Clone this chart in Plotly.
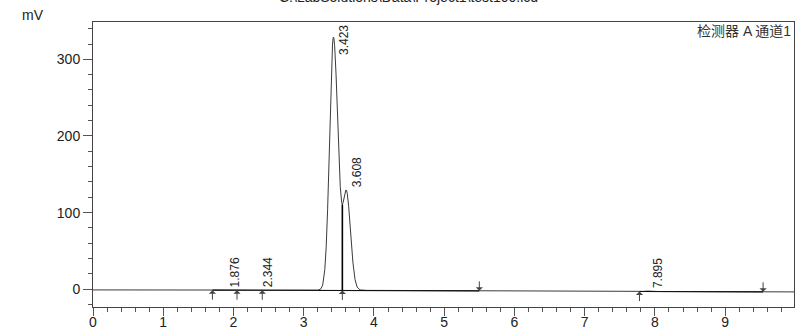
import numpy as np
import plotly.graph_objects as go

# ---- data ----
time_min = [0.00, 0.50, 1.00, 1.50, 1.70, 1.80, 1.876, 1.95, 2.05, 2.25, 2.344, 2.41,
            2.60, 2.80, 3.00, 3.10, 3.15, 3.20, 3.24, 3.27, 3.30, 3.32, 3.34, 3.36,
            3.38, 3.40, 3.41, 3.42, 3.423, 3.43, 3.44, 3.46, 3.48, 3.50, 3.52, 3.54,
            3.55, 3.56, 3.58, 3.60, 3.61, 3.62, 3.64, 3.66, 3.68, 3.70, 3.73, 3.76,
            3.80, 3.85, 3.90, 4.20, 4.60, 5.00, 5.50, 6.00, 6.50, 7.00, 7.50, 7.78,
            7.84, 7.895, 7.95, 8.05, 8.50, 9.00, 9.54, 9.98]
signal_mv = [-0.8, -0.9, -1.0, -1.1, -1.1, -0.9, -0.5, -0.9, -1.1, -0.9, -0.4, -1.0,
             -1.1, -1.2, -1.2, -1.2, -1.2, -1.1, 0.1, 5.5, 25.6, 55.5, 103.7, 168.7,
             240.7, 301.0, 320.0, 328.5, 329.0, 327.5, 318.0, 281.0, 228.0, 175.0, 134.0, 113.5,
             110.5, 113.0, 123.0, 129.5, 129.0, 125.0, 108.0, 84.0, 58.0, 35.5, 13.0, 3.0,
             -0.8, -1.3, -1.4, -1.5, -1.7, -1.8, -2.0, -2.2, -2.4, -2.6, -2.8, -2.9,
             -2.7, -2.3, -2.7, -2.9, -3.0, -3.1, -3.3, -3.4]

peak_times = [1.876, 2.344, 3.423, 3.608, 7.895]
peak_labels = ["1.876", "2.344", "3.423", "3.608", "7.895"]

# integration boundaries
start_marks = [1.70, 2.05, 2.41, 3.55, 7.78]
end_marks = [5.50, 9.54]
cluster_starts = [1.70, 7.78]
cluster_ends = [5.50, 9.54]
cluster_start_vals = [-1.1, -2.9]
cluster_end_vals = [-2.0, -3.3]
drop_time = 3.55

x_ticks = list(range(0, 10))
y_ticks = [0, 100, 200, 300]

title_text = "C:\\LabSolutions\\Data\\Project1\\test100.lcd"
channel_text = "检测器 A 通道1"
unit_text = "mV"

# ---- helpers for positions ----
def base_at(t):
    for s, e, sv, ev in zip(cluster_starts, cluster_ends, cluster_start_vals, cluster_end_vals):
        if s <= t <= e:
            return sv + (ev - sv) * (t - s) / (e - s)
    return float(np.interp(t, time_min, signal_mv))

FONT = "Liberation Sans, Arial, sans-serif"
fig = go.Figure()

fig.add_trace(go.Scatter(x=time_min, y=signal_mv, mode="lines",
                         line=dict(color="#3a3a3a", width=1), showlegend=False,
                         hoverinfo="skip"))

# integration baselines
for s, e, sv, ev in zip(cluster_starts, cluster_ends, cluster_start_vals, cluster_end_vals):
    fig.add_trace(go.Scatter(x=[s, e], y=[sv, ev], mode="lines",
                             line=dict(color="#111", width=1.2), showlegend=False,
                             hoverinfo="skip"))

# drop line
fig.add_trace(go.Scatter(x=[drop_time, drop_time],
                         y=[base_at(drop_time), float(np.interp(drop_time, time_min, signal_mv))],
                         mode="lines", line=dict(color="#000", width=1.6),
                         showlegend=False, hoverinfo="skip"))

annotations = []
# start arrows (pointing up to baseline)
for t in start_marks:
    annotations.append(dict(x=t, y=base_at(t), xref="x", yref="y", text="",
                            showarrow=True, ax=0, ay=11, arrowhead=1, arrowsize=1.2,
                            arrowwidth=1, arrowcolor="#444", standoff=0, startstandoff=0))
# end arrows (pointing down to baseline)
for t in end_marks:
    annotations.append(dict(x=t, y=base_at(t), xref="x", yref="y", text="",
                            showarrow=True, ax=0, ay=-11, arrowhead=1, arrowsize=1.2,
                            arrowwidth=1, arrowcolor="#444", standoff=0, startstandoff=0))

# peak labels
label_bottom_offsets = [2.5, 2.5, -18, 3, 3]
for t, lab, off in zip(peak_times, peak_labels, label_bottom_offsets):
    annotations.append(dict(x=t, y=float(np.interp(t, time_min, signal_mv)), xref="x", yref="y",
                            text=lab, showarrow=False, textangle=-90,
                            xanchor="center", yanchor="middle",
                            xshift=10.5, yshift=off + 15,
                            font=dict(family=FONT, size=12, color="#222")))

# title (cut at top), unit, channel
annotations.append(dict(x=0.4494, y=1.0509, xref="paper", yref="paper", text=title_text,
                        showarrow=False, xanchor="center", yanchor="bottom",
                        font=dict(family=FONT, size=14, color="#222")))
annotations.append(dict(x=-0.0856, y=1.0246, xref="paper", yref="paper", text=unit_text,
                        showarrow=False, xanchor="center", yanchor="middle",
                        font=dict(family=FONT, size=14, color="#222")))
annotations.append(dict(x=1, y=1, xref="paper", yref="paper", text=channel_text,
                        showarrow=False, xanchor="right", yanchor="top", xshift=-1, yshift=1,
                        font=dict(family="Liberation Sans, Noto Sans CJK SC, sans-serif",
                                  size=14, color="#333")))

fig.update_layout(
    width=800, height=329,
    margin=dict(l=93, r=6, t=22, b=22),
    paper_bgcolor="white", plot_bgcolor="white",
    showlegend=False,
    annotations=annotations,
    xaxis=dict(range=[0, 9.98], tickvals=x_ticks, ticks="outside", ticklen=8,
               tickcolor="#555", tickwidth=1, showline=True, linecolor="#444",
               linewidth=1, mirror=True, showgrid=False, zeroline=False, automargin=False,
               ticklabelstandoff=-6,
               tickfont=dict(family=FONT, size=14, color="#222"),
               minor=dict(dtick=0.2, ticks="outside", ticklen=4, tickcolor="#555",
                          showgrid=False)),
    yaxis=dict(range=[-23.1, 348.7], tickvals=y_ticks, ticks="outside", ticklen=9,
               tickcolor="#555", tickwidth=1, showline=True, linecolor="#444",
               linewidth=1, mirror=True, showgrid=False, zeroline=False, automargin=False,
               tickfont=dict(family=FONT, size=14, color="#222"),
               minor=dict(dtick=20, tick0=0, ticks="outside", ticklen=4, tickcolor="#555",
                          showgrid=False)),
)

fig.write_html("out.html", config={"displayModeBar": False},
               post_script="document.body.style.margin='0';document.body.style.overflow='hidden';")
